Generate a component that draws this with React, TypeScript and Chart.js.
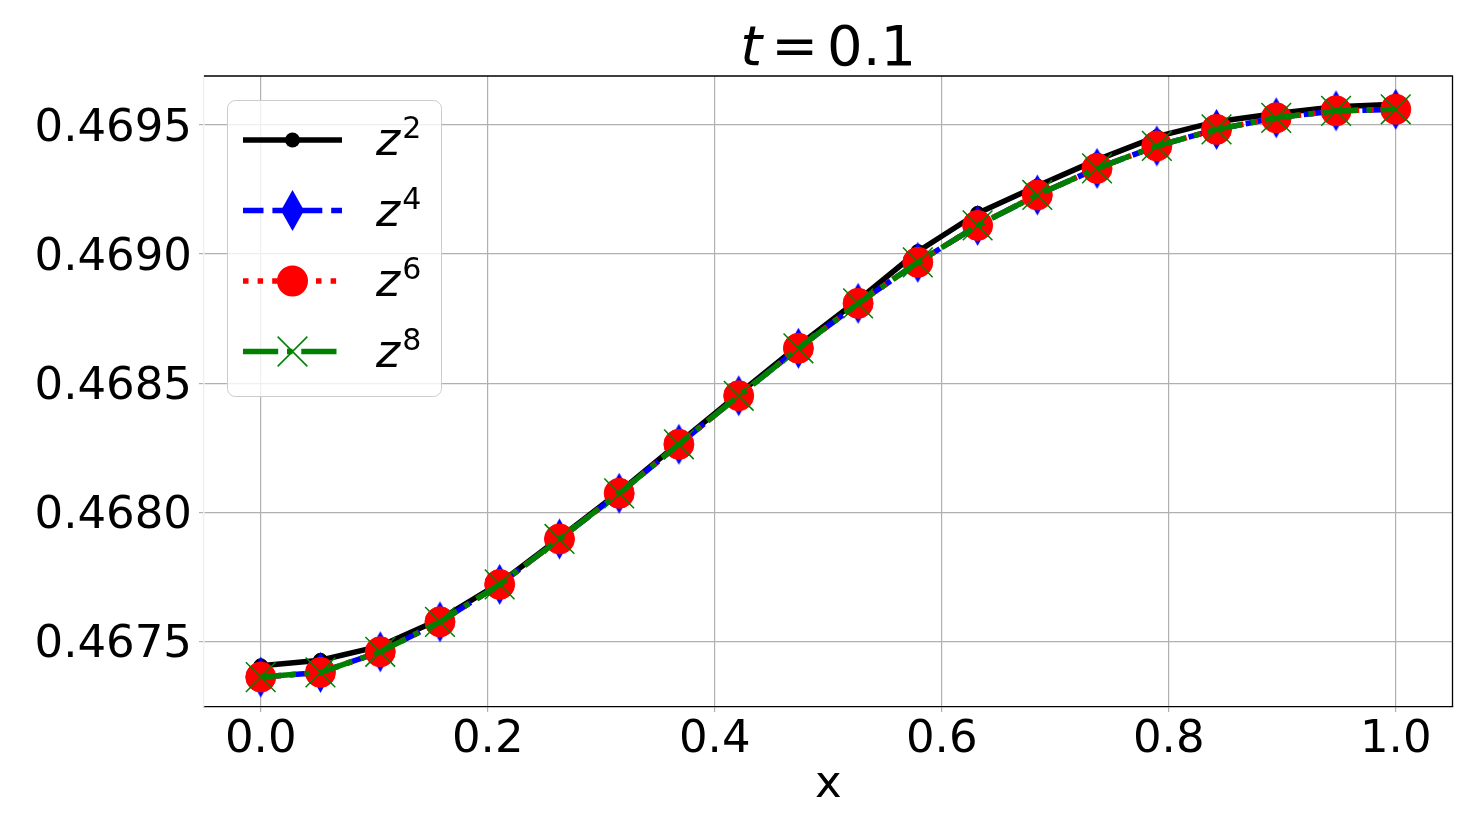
import React, { useEffect, useRef } from 'react';
import { Chart, registerables } from 'chart.js';

Chart.register(...registerables);

// ---------- data ----------
const X_VALUES = [
  0.0, 0.0526, 0.1053, 0.1579, 0.2105, 0.2632, 0.3158, 0.3684, 0.4211, 0.4737,
  0.5263, 0.5789, 0.6316, 0.6842, 0.7368, 0.7895, 0.8421, 0.8947, 0.9474, 1.0,
];
const Z2_VALUES = [
  0.467405, 0.467426, 0.467481, 0.467585, 0.467725, 0.4679, 0.468078, 0.468268, 0.468458, 0.468645,
  0.468822, 0.46901, 0.469158, 0.469264, 0.469365, 0.469455, 0.469513, 0.469545, 0.469571, 0.469581,
];
const Z4_VALUES = [
  0.467361, 0.467379, 0.467459, 0.467575, 0.46772, 0.467896, 0.468073, 0.468263, 0.468451, 0.468635,
  0.468809, 0.468968, 0.469111, 0.469229, 0.469332, 0.469419, 0.469483, 0.469528, 0.469555, 0.469561,
];
const Z6_VALUES = [
  0.467361, 0.467379, 0.467459, 0.467575, 0.46772, 0.467896, 0.468073, 0.468263, 0.468451, 0.468635,
  0.468809, 0.468968, 0.469111, 0.469229, 0.469332, 0.469419, 0.469483, 0.469528, 0.469555, 0.469561,
];
const Z8_VALUES = [
  0.467361, 0.467379, 0.467459, 0.467575, 0.46772, 0.467896, 0.468073, 0.468263, 0.468451, 0.468635,
  0.468809, 0.468968, 0.469111, 0.469229, 0.469332, 0.469419, 0.469483, 0.469528, 0.469555, 0.469561,
];
const SERIES_SUPS = ['2', '4', '6', '8'];
const X_TICKS = [0.0, 0.2, 0.4, 0.6, 0.8, 1.0];
const Y_TICKS = [0.4675, 0.468, 0.4685, 0.469, 0.4695];
const X_MIN = -0.05;
const X_MAX = 1.05;
const Y_MIN = 0.467245;
const Y_MAX = 0.46969;
const TITLE_VAR = 't';
const TITLE_REL = '=';
const TITLE_NUM = '0.1';
const X_LABEL = 'x';

// ---------- styles ----------
const FONT = "'DejaVu Sans', 'Liberation Sans', sans-serif";
const LW = 5.5;
const GRID = '#b0b0b0';

function makeDiamond(w: number, h: number, color: string): HTMLCanvasElement {
  const c = document.createElement('canvas');
  c.width = w + 2;
  c.height = h + 2;
  const g = c.getContext('2d')!;
  g.beginPath();
  g.moveTo(c.width / 2, 1);
  g.lineTo(c.width - 1, c.height / 2);
  g.lineTo(c.width / 2, c.height - 1);
  g.lineTo(1, c.height / 2);
  g.closePath();
  g.fillStyle = color;
  g.fill();
  return c;
}

type Marker = { kind: 'circle' | 'diamond' | 'cross'; color: string; r: number };

function drawMarker(ctx: CanvasRenderingContext2D, m: Marker, x: number, y: number, diamond: HTMLCanvasElement) {
  ctx.save();
  ctx.setLineDash([]);
  if (m.kind === 'circle') {
    ctx.beginPath();
    ctx.arc(x, y, m.r, 0, Math.PI * 2);
    ctx.fillStyle = m.color;
    ctx.fill();
  } else if (m.kind === 'diamond') {
    ctx.drawImage(diamond, x - diamond.width / 2, y - diamond.height / 2);
  } else {
    const d = m.r * Math.SQRT1_2;
    ctx.strokeStyle = m.color;
    ctx.lineWidth = 1.5;
    ctx.beginPath();
    ctx.moveTo(x - d, y - d);
    ctx.lineTo(x + d, y + d);
    ctx.moveTo(x + d, y - d);
    ctx.lineTo(x - d, y + d);
    ctx.stroke();
  }
  ctx.restore();
}

export default function App() {
  const ref = useRef<HTMLCanvasElement>(null);

  useEffect(() => {
    const canvas = ref.current!;
    const diamond = makeDiamond(23, 41, '#0000ff');

    const legendItems = [
      { color: '#000000', dash: [] as number[], marker: { kind: 'circle', color: '#000000', r: 7.5 } as Marker },
      { color: '#0000ff', dash: [20.5, 8.9], marker: { kind: 'diamond', color: '#0000ff', r: 0 } as Marker },
      { color: '#ff0000', dash: [5.5, 9.1], marker: { kind: 'circle', color: '#ff0000', r: 15.5 } as Marker },
      { color: '#008000', dash: [35.2, 8.8, 5.5, 8.8], marker: { kind: 'cross', color: '#008000', r: 21 } as Marker },
    ];

    const decorPlugin = {
      id: 'decor',
      afterDraw(chart: any) {
        const ctx: CanvasRenderingContext2D = chart.ctx;
        const a = chart.chartArea;
        ctx.save();
        // top & right spines
        ctx.strokeStyle = '#000000';
        ctx.lineWidth = 1.3;
        ctx.beginPath();
        ctx.moveTo(a.left, a.top);
        ctx.lineTo(a.right, a.top);
        ctx.lineTo(a.right, a.bottom);
        ctx.stroke();

        // title
        const tSize = 56;
        ctx.fillStyle = '#000000';
        ctx.textBaseline = 'alphabetic';
        ctx.font = `oblique ${tSize}px ${FONT}`;
        const wT = ctx.measureText(TITLE_VAR).width;
        ctx.font = `${tSize}px ${FONT}`;
        const wRel = ctx.measureText(TITLE_REL).width;
        const wNum = ctx.measureText(TITLE_NUM).width;
        const gap = 0.16 * tSize;
        const total = wT + gap + wRel + gap + wNum;
        let tx = (a.left + a.right) / 2 - total / 2;
        const ty = 65;
        ctx.textAlign = 'left';
        ctx.font = `oblique ${tSize}px ${FONT}`;
        ctx.fillText(TITLE_VAR, tx, ty);
        tx += wT + gap;
        ctx.font = `${tSize}px ${FONT}`;
        ctx.fillText(TITLE_REL, tx, ty);
        tx += wRel + gap;
        ctx.fillText(TITLE_NUM, tx, ty);

        // x label
        ctx.font = `45px ${FONT}`;
        ctx.textAlign = 'center';
        ctx.fillText(X_LABEL, (a.left + a.right) / 2, 797);

        // legend
        const bx = 227.5, by = 100.5, bw = 214, bh = 296, br = 8;
        ctx.beginPath();
        ctx.roundRect(bx, by, bw, bh, br);
        ctx.fillStyle = 'rgba(255,255,255,0.8)';
        ctx.fill();
        ctx.strokeStyle = '#cccccc';
        ctx.lineWidth = 1;
        ctx.stroke();

        const rowY0 = 140;
        const rowStep = 70.5;
        legendItems.forEach((it, i) => {
          const y = rowY0 + i * rowStep;
          ctx.save();
          ctx.strokeStyle = it.color;
          ctx.lineWidth = LW;
          ctx.lineCap = 'butt';
          ctx.setLineDash(it.dash);
          ctx.beginPath();
          ctx.moveTo(243, y);
          ctx.lineTo(342, y);
          ctx.stroke();
          ctx.restore();
          drawMarker(ctx, it.marker, 292.5, y, diamond);

          ctx.fillStyle = '#000000';
          ctx.textAlign = 'left';
          ctx.font = `oblique 46px ${FONT}`;
          const zx = 376;
          ctx.fillText('z', zx, y + 15);
          const wz = ctx.measureText('z').width;
          ctx.font = `30px ${FONT}`;
          ctx.fillText(SERIES_SUPS[i], zx + wz + 2, y - 2);
        });
        ctx.restore();
      },
    };

    const mk = (arr: number[]) => X_VALUES.map((x, i) => ({ x, y: arr[i] }));

    const chart = new Chart(canvas, {
      type: 'line',
      data: {
        datasets: [
          {
            label: 'z2',
            data: mk(Z2_VALUES),
            borderColor: '#000000',
            backgroundColor: '#000000',
            borderWidth: LW,
            borderJoinStyle: 'round',
            pointStyle: 'circle',
            pointRadius: 7,
            pointBorderWidth: 1,
            pointBackgroundColor: '#000000',
            pointBorderColor: '#000000',
            order: 4,
            tension: 0,
          },
          {
            label: 'z4',
            data: mk(Z4_VALUES),
            borderColor: '#0000ff',
            backgroundColor: '#0000ff',
            borderWidth: LW,
            borderDash: [20.5, 8.9],
            borderJoinStyle: 'round',
            pointStyle: diamond,
            pointRadius: 12,
            order: 3,
            tension: 0,
          },
          {
            label: 'z6',
            data: mk(Z6_VALUES),
            borderColor: '#ff0000',
            backgroundColor: '#ff0000',
            borderWidth: LW,
            borderDash: [5.5, 9.1],
            borderJoinStyle: 'round',
            pointStyle: 'circle',
            pointRadius: 15,
            pointBorderWidth: 1,
            pointBackgroundColor: '#ff0000',
            pointBorderColor: '#ff0000',
            order: 2,
            tension: 0,
          },
          {
            label: 'z8',
            data: mk(Z8_VALUES),
            borderColor: '#008000',
            backgroundColor: '#008000',
            borderWidth: LW,
            borderDash: [35.2, 8.8, 5.5, 8.8],
            borderJoinStyle: 'round',
            pointStyle: 'crossRot',
            pointRadius: 21,
            pointBorderWidth: 1.5,
            pointBorderColor: '#008000',
            order: 1,
            tension: 0,
          },
        ] as any,
      },
      options: {
        responsive: false,
        animation: false,
        devicePixelRatio: 1,
        layout: { padding: { top: 76, right: 21, left: 0, bottom: 0 } },
        plugins: {
          legend: { display: false },
          title: { display: false },
          tooltip: { enabled: false },
        },
        events: [],
        scales: {
          x: {
            type: 'linear',
            min: X_MIN,
            max: X_MAX,
            afterBuildTicks: (s: any) => {
              s.ticks = X_TICKS.map((v) => ({ value: v }));
            },
            afterFit: (s: any) => {
              s.height = 120;
            },
            ticks: {
              font: { family: FONT, size: 45 },
              color: '#000000',
              padding: 1,
              maxRotation: 0,
              autoSkip: false,
              callback: (v: any) => Number(v).toFixed(1),
            },
            grid: { color: GRID, lineWidth: 1.2, tickLength: 5, tickColor: GRID },
            border: { display: true, color: '#000000', width: 1.3 },
          },
          y: {
            type: 'linear',
            min: Y_MIN,
            max: Y_MAX,
            afterBuildTicks: (s: any) => {
              s.ticks = Y_TICKS.map((v) => ({ value: v }));
            },
            afterFit: (s: any) => {
              s.width = 204;
            },
            ticks: {
              font: { family: FONT, size: 45 },
              color: '#000000',
              padding: 7,
              labelOffset: 4,
              autoSkip: false,
              callback: (v: any) => Number(v).toFixed(4),
            },
            grid: { color: GRID, lineWidth: 1.2, tickLength: 5, tickColor: GRID },
            border: { display: true, color: '#eeeeee', width: 1.3 },
          },
        },
      },
      plugins: [decorPlugin],
    } as any);

    return () => chart.destroy();
  }, []);

  return (
    <div style={{ position: 'absolute', left: 0, top: 0, width: 1475, height: 827, background: '#ffffff' }}>
      <canvas ref={ref} width={1475} height={827} style={{ display: 'block' }} />
    </div>
  );
}
